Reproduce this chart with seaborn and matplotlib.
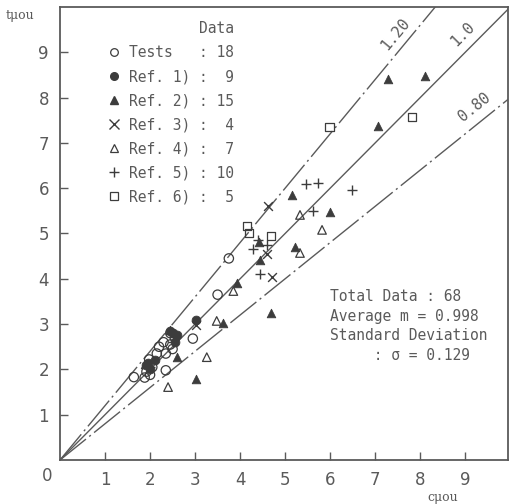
import numpy as np
import pandas as pd
import matplotlib
matplotlib.use("Agg")
import matplotlib.pyplot as plt
from matplotlib.lines import Line2D
import seaborn as sns

# --- data (x = cμou, y = tμou) ---
tests_x = [1.64, 1.88, 1.92, 1.98, 2.05, 2.15, 2.2, 2.3, 2.35, 2.45, 2.5, 2.55, 2.35, 2.95, 3.5, 3.75, 2.45, 2.0]
tests_y = [1.83, 1.82, 1.95, 2.22, 2.05, 2.35, 2.5, 2.6, 2.35, 2.55, 2.45, 2.7, 1.98, 2.68, 3.65, 4.45, 2.8, 1.88]
ref1_x = [1.9, 1.95, 2.0, 2.45, 2.5, 2.6, 2.55, 2.1, 3.03]
ref1_y = [2.1, 2.15, 2.0, 2.85, 2.8, 2.75, 2.6, 2.2, 3.1]
ref2_x = [7.29, 8.11, 7.07, 5.15, 6.0, 4.69, 3.02, 3.62, 3.94, 4.42, 4.44, 5.22, 2.59, 1.88, 2.45]
ref2_y = [8.41, 8.48, 7.37, 5.85, 5.48, 3.24, 1.79, 3.02, 3.91, 4.81, 4.42, 4.71, 2.28, 2.12, 2.88]
ref3_x = [4.62, 4.6, 4.7, 3.03]
ref3_y = [5.6, 4.55, 4.05, 2.98]
ref4_x = [2.4, 3.26, 3.48, 3.85, 5.82, 5.33, 5.33]
ref4_y = [1.61, 2.27, 3.07, 3.73, 5.08, 4.57, 5.41]
ref5_x = [5.47, 5.74, 6.48, 5.63, 4.28, 4.44, 4.6, 4.4, 2.5, 2.0]
ref5_y = [6.09, 6.12, 5.97, 5.5, 4.65, 4.1, 4.75, 4.85, 2.6, 2.05]
ref6_x = [5.98, 7.82, 4.15, 4.2, 4.69]
ref6_y = [7.35, 7.57, 5.17, 5.01, 4.94]

series_names = ["Tests", "Ref. 1)", "Ref. 2)", "Ref. 3)", "Ref. 4)", "Ref. 5)", "Ref. 6)"]
series_counts = [18, 9, 15, 4, 7, 10, 5]
ratio_lines = [1.20, 1.0, 0.80]
ratio_labels = ["1.20", "1.0", "0.80"]
stats_lines = ["Total Data : 68", "Average m = 0.998", "Standard Deviation", "     : \u03c3 = 0.129"]

ink = "#3c3c3c"
grey = "#5a5a5a"
mono = "DejaVu Sans Mono"

frames = []
for name, xs, ys in zip(series_names,
                        [tests_x, ref1_x, ref2_x, ref3_x, ref4_x, ref5_x, ref6_x],
                        [tests_y, ref1_y, ref2_y, ref3_y, ref4_y, ref5_y, ref6_y]):
	frames.append(pd.DataFrame({"c": xs, "t": ys, "src": name}))
df = pd.concat(frames, ignore_index=True)

# marker, filled?, size
styles = {
	"Tests": ("o", False, 45),
	"Ref. 1)": ("o", True, 40),
	"Ref. 2)": ("^", True, 38),
	"Ref. 3)": ("x", False, 40),
	"Ref. 4)": ("^", False, 38),
	"Ref. 5)": ("+", False, 60),
	"Ref. 6)": ("s", False, 38),
}

sns.set_style("ticks")
plt.rcParams['font.family'] = ['DejaVu Sans']

fig = plt.figure(figsize=(5.10, 5.04), dpi=100)
ax = fig.add_axes([60/510, 44/504, 448/510, 453/504])
ax.set_xlim(0, 9.95)
ax.set_ylim(0, 10.0)

# ratio lines through origin
xs_line = np.array([0, 10.5])
for r in ratio_lines:
	ls = "-" if r == 1.0 else (0, (24, 3, 1.5, 3))
	ax.plot(xs_line, r*xs_line, color=grey, lw=1.0, ls=ls, zorder=1)

for name in series_names:
	m, filled, s = styles[name]
	sub = df[df.src == name]
	if m in ("x", "+"):
		sns.scatterplot(data=sub, x="c", y="t", marker=m, s=s, color=ink, linewidth=1.0, ax=ax, zorder=3)
	elif filled:
		sns.scatterplot(data=sub, x="c", y="t", marker=m, s=s, color=ink, edgecolor=ink, linewidth=0.6, ax=ax, zorder=3)
	else:
		sns.scatterplot(data=sub, x="c", y="t", marker=m, s=s, facecolors="none", edgecolor=ink, linewidth=0.9, ax=ax, zorder=3)

# ratio labels along lines
label_pos = {"1.20": (7.45, 9.4), "1.0": (8.95, 9.4), "0.80": (9.2, 7.8)}
for r, lab in zip(ratio_lines, ratio_labels):
	p0 = ax.transData.transform((0, 0))
	p1 = ax.transData.transform((1, r))
	ang = np.degrees(np.arctan2(p1[1]-p0[1], p1[0]-p0[0]))
	ax.text(*label_pos[lab], lab, rotation=ang, rotation_mode="anchor", ha="center", va="center",
			fontsize=11, color=grey, family=mono)

# axes styling
ax.set_xticks(range(1, 10))
ax.set_yticks(range(1, 10))
ax.tick_params(direction="in", length=6, width=1, colors=grey, labelsize=12, pad=8)
ax.set_xlabel("")
ax.set_ylabel("")
for sp in ax.spines.values():
	sp.set_visible(True)
	sp.set_color(grey)
	sp.set_linewidth(1.3)
fig.text(47/510, 1-476/504, "0", ha="center", va="center", fontsize=12, color=grey)
fig.text(20/510, 1-15/504, "t\u03bcou", ha="center", va="center", fontsize=9, color=grey, family="DejaVu Serif")
fig.text(443/510, 1-498/504, "c\u03bcou", ha="center", va="center", fontsize=9, color=grey, family="DejaVu Serif")

# legend
handles = []
labels = []
for name, n in zip(series_names, series_counts):
	m, filled, s = styles[name]
	if m in ("x", "+"):
		h = Line2D([], [], ls="", marker=m, color=ink, markersize=7, markeredgewidth=1.0)
	elif filled:
		h = Line2D([], [], ls="", marker=m, color=ink, markersize=5.5)
	else:
		h = Line2D([], [], ls="", marker=m, markerfacecolor="none", markeredgecolor=ink, markersize=5.5, markeredgewidth=0.9)
	handles.append(h)
	labels.append(f"{name:<8}: {n:>2}")
leg = ax.legend(handles, labels, title="Data", loc="upper left", bbox_to_anchor=(0.075, 0.998),
				frameon=False, prop={"family": mono, "size": 10.5}, labelspacing=0.62,
				handletextpad=0.5, handlelength=1.0, alignment="right")
leg.get_title().set_fontfamily(mono)
leg.get_title().set_fontsize(10.5)
for t in leg.get_texts():
	t.set_color(grey)
leg.get_title().set_color(grey)

# stats block
ax.text(6.0, 3.78, "\n".join(stats_lines), ha="left", va="top", fontsize=10.5, family=mono,
		color=grey, linespacing=1.4)

fig.savefig("out.png", dpi=100)
